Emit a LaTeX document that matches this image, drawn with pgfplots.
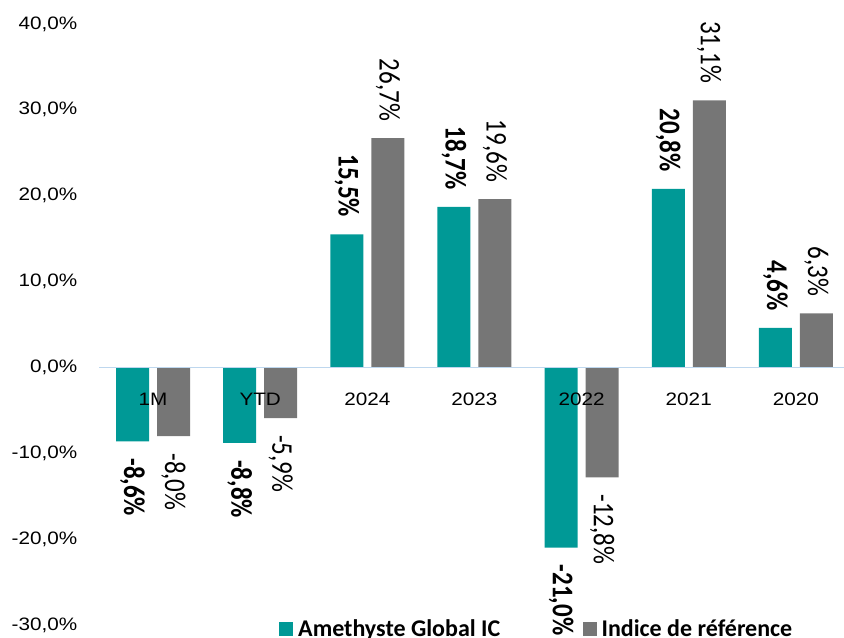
\documentclass[border=0pt]{standalone}
\usepackage{fontspec}
\setmainfont{Carlito}
\newfontfamily\tickfont{Liberation Sans}[FakeStretch=1.15]
\usepackage{pgfplots}
\pgfplotsset{compat=1.18}

\definecolor{fundteal}{RGB}{0,153,150}
\definecolor{refgray}{RGB}{118,118,118}
\definecolor{zeroblue}{RGB}{190,215,238}

% 1px = 0.75pt, picture 844x638 px
\pgfplotsset{
  barlabel/.style={
    visualization depends on={rawy \as \rawy},
    nodes near coords={\pgfmathprintnumber[fixed,fixed zerofill,precision=1,use comma,assume math mode=true]{\pgfplotspointmeta}\%},
    every node near coord/.append style={
      /utils/exec={\ifdim\rawy pt<0pt \gdef\lblanchor{west}\else\gdef\lblanchor{east}\fi},
      anchor=\lblanchor, xscale=1.2, rotate=-90,
      inner xsep=12.75pt, inner ysep=0pt, text=black, #1},
  },
}

\begin{document}
\begin{tikzpicture}
\begin{axis}[
  at={(74.625pt,9.75pt)}, anchor=south west,
  scale only axis, width=558.375pt, height=450.75pt,
  xmin=-0.5, xmax=6.449, ymin=-30, ymax=40,
  ybar=6pt, bar width=24.75pt,
  axis on top,
  axis x line=middle, axis y line=left,
  x axis line style={draw=zeroblue, line width=1.1pt, -},
  y axis line style={draw=none},
  hide obscured x ticks=false, hide obscured y ticks=false,
  major tick length=0pt,
  xtick={0,...,6}, xticklabels={1M,YTD,2024,2023,2022,2021,2020},
  ytick={-30,-20,...,40},
  /pgf/number format/assume math mode=true,
  yticklabel={\pgfmathprintnumber[fixed,fixed zerofill,precision=1,use comma]{\tick}\%},
  ticklabel style={font=\tickfont\fontsize{13.5}{16}\selectfont, inner sep=0pt, text=black},
  yticklabel style={anchor=east, xshift=-16.5pt},
  xticklabel style={anchor=north, yshift=-18.75pt},
  clip=false,
  legend style={at={(axis cs:1.175,-30.45)}, anchor=west, draw=none, fill=none,
    inner sep=0pt, legend columns=2,
    font=\bfseries\fontsize{18}{20}\selectfont,
    nodes={inner xsep=3.75pt, inner ysep=0pt},
    /tikz/every even column/.append style={column sep=58pt}},
  legend image code/.code={\fill[#1] (0pt,-5.25pt) rectangle (10.5pt,5.25pt);},
]
\addplot[fill=fundteal, draw=none,
  barlabel={font=\bfseries\fontsize{18.75}{20}\selectfont}]
  coordinates {(0,-8.6) (1,-8.8) (2,15.5) (3,18.7) (4,-21.0) (5,20.8) (6,4.6)};
\addlegendentry{Amethyste Global IC}
\addplot[fill=refgray, draw=none,
  barlabel={font=\fontsize{18.75}{20}\selectfont}]
  coordinates {(0,-8.0) (1,-5.9) (2,26.7) (3,19.6) (4,-12.8) (5,31.1) (6,6.3)};
\addlegendentry{Indice de référence}
\end{axis}
\pgfresetboundingbox
\useasboundingbox (0,0) rectangle (633pt,478.5pt);
\end{tikzpicture}
\end{document}
